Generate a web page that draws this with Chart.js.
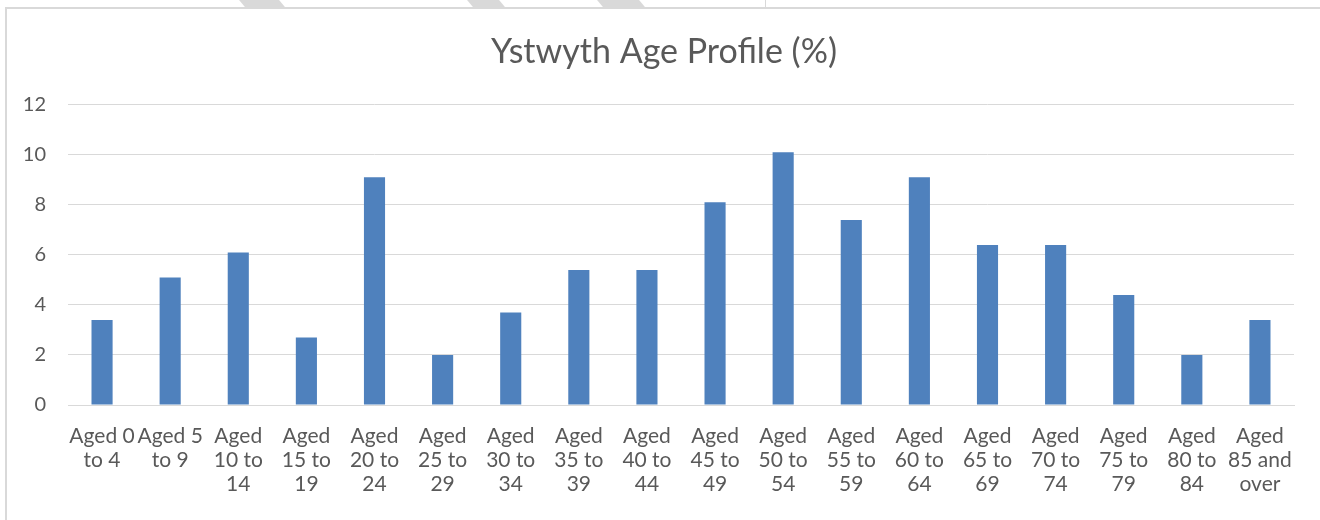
<!DOCTYPE html>
<html>
<head>
<meta charset="utf-8">
<script src="https://cdn.jsdelivr.net/npm/chart.js@4"></script>
<style>
  html, body { margin: 0; padding: 0; background: #fff; }
  #wrap { position: relative; width: 1320px; height: 520px; overflow: hidden; }
  #frame { position: absolute; left: 5px; top: 7px; right: -5px; bottom: -5px;
           border-left: 2px solid #d9d9d9; border-top: 2px solid #d9d9d9; }
  .stripe { position: absolute; top: 0; height: 7px; background: #d9d9d9; transform: skewX(40deg); }
  #tick { position: absolute; left: 765px; top: 0; width: 1px; height: 7px; background: #d9d9d9; }
  canvas { position: absolute; left: 0; top: 0; }
</style>
</head>
<body>
<div id="wrap">
  <div class="stripe" style="left:242px;width:40px"></div>
  <div class="stripe" style="left:470px;width:32px"></div>
  <div class="stripe" style="left:600px;width:42px"></div>
  <div id="tick"></div>
  <div id="frame"></div>
  <canvas id="chart" width="1320" height="520"></canvas>
</div>
<script>
// --- Data ---
const ageLabels = [
    ['Aged 0', 'to 4'], ['Aged 5', 'to 9'], ['Aged', '10 to', '14'], ['Aged', '15 to', '19'],
    ['Aged', '20 to', '24'], ['Aged', '25 to', '29'], ['Aged', '30 to', '34'], ['Aged', '35 to', '39'],
    ['Aged', '40 to', '44'], ['Aged', '45 to', '49'], ['Aged', '50 to', '54'], ['Aged', '55 to', '59'],
    ['Aged', '60 to', '64'], ['Aged', '65 to', '69'], ['Aged', '70 to', '74'], ['Aged', '75 to', '79'],
    ['Aged', '80 to', '84'], ['Aged', '85 and', 'over']
];
const agePercent = [3.4, 5.1, 6.1, 2.7, 9.1, 2.0, 3.7, 5.4, 5.4, 8.1, 10.1, 7.4, 9.1, 6.4, 6.4, 4.4, 2.0, 3.4];
const yTicks = [0, 2, 4, 6, 8, 10, 12];

const fontFamily = 'Lato, "Open Sans", sans-serif';
const textColor = '#595959';

new Chart(document.getElementById('chart').getContext('2d'), {
    type: 'bar',
    data: {
        labels: ageLabels,
        datasets: [{
            label: 'Age Profile (%)',
            data: agePercent,
            backgroundColor: '#4f81bd',
            borderWidth: 0,
            categoryPercentage: 1,
            barPercentage: 0.31
        }]
    },
    options: {
        responsive: false,
        animation: false,
        layout: { padding: { left: 8, right: 0, top: 0, bottom: 0 } },
        plugins: {
            legend: { display: false },
            tooltip: { enabled: false },
            title: {
                display: true,
                text: 'Ystwyth Age Profile (%)',
                color: textColor,
                font: { family: fontFamily, size: 34, weight: 'normal' },
                padding: { top: 32, bottom: 32 }
            }
        },
        scales: {
            y: {
                min: 0,
                max: yTicks[yTicks.length - 1],
                afterBuildTicks: (scale) => { scale.ticks = yTicks.map(v => ({ value: v })); },
                afterFit: (scale) => { scale.width = 60; },
                border: { display: false },
                grid: { color: '#d9d9d9', lineWidth: 1, drawTicks: false },
                ticks: { color: textColor, padding: 22, font: { family: fontFamily, size: 20 } }
            },
            // empty right-hand axis, only reserves the right margin
            yRight: {
                position: 'right',
                min: 0,
                max: 12,
                afterFit: (scale) => { scale.width = 26; },
                border: { display: false },
                grid: { display: false },
                ticks: { display: false }
            },
            x: {
                afterFit: (scale) => { scale.height = 115; },
                border: { display: true, color: '#d9d9d9', width: 1 },
                grid: { display: false },
                ticks: {
                    color: textColor,
                    autoSkip: false,
                    maxRotation: 0,
                    minRotation: 0,
                    padding: 11,
                    font: { family: fontFamily, size: 21, lineHeight: 1.143 }
                }
            }
        }
    }
});
</script>
</body>
</html>
